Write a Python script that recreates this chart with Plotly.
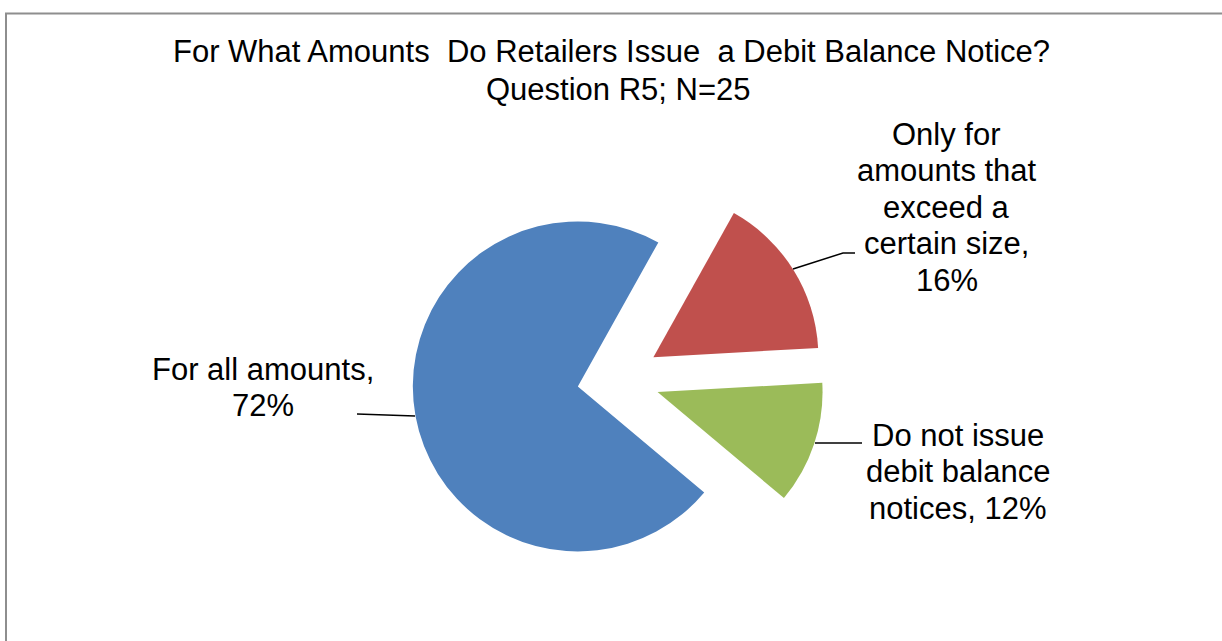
import textwrap
import plotly.graph_objects as go

# ---- data ----
categories = ["For all amounts", "Only for amounts that exceed a certain size", "Do not issue debit balance notices"]
values = [72, 16, 12]
colors = ["#4F81BD", "#C0504D", "#9BBB59"]
title_lines = ["For What Amounts\u00a0 Do Retailers Issue\u00a0 a Debit Balance Notice?", "Question R5; N=25"]

# ---- layout helpers (pixel -> paper) ----
W, H = 1222, 641
def px(x):
    return x / W
def py(y):
    return 1 - y / H

FS = 31          # label font size
LINE = 36.5      # label line spacing (px)

# pie geometry
cx, cy, r, pull = 618.4, 379.0, 165.0, 0.25
half = r * (1 + pull)

fig = go.Figure(go.Pie(
    labels=categories,
    values=values,
    sort=False,
    direction="clockwise",
    rotation=130,
    pull=[pull] * len(values),
    marker=dict(colors=colors, line=dict(width=0)),
    textinfo="none",
    hoverinfo="label+percent",
    domain=dict(x=[px(cx - half), px(cx + half)], y=[py(cy + half), py(cy - half)]),
))

annotations = []
def add_lines(lines, xc, first_baseline, spacing, size):
    for i, t in enumerate(lines):
        base = first_baseline + i * spacing
        annotations.append(dict(
            x=px(xc), y=py(base - 0.35 * size), xref="paper", yref="paper",
            text=t, showarrow=False, xanchor="center", yanchor="middle",
            font=dict(family="Liberation Sans, Arial, sans-serif", size=size, color="#000000"),
        ))

# title
add_lines([title_lines[0]], 611.5, 62, 38, 31)
add_lines([title_lines[1]], 618, 100, 38, 31)

# data labels
wrap_widths = [16, 13, 13]
label_pos = [(262.5, 380.0), (946.5, 145.0), (958.0, 446.0)]
for cat, val, ww, (lx, lb) in zip(categories, values, wrap_widths, label_pos):
    lines = textwrap.wrap(f"{cat}, {val}%", width=ww)
    add_lines(lines, lx, lb, LINE, FS)

shapes = [
    # chart border
    dict(type="rect", xref="paper", yref="paper", x0=px(6), y0=py(13.5), x1=px(1240), y1=py(700),
         line=dict(color="#8E8E8E", width=2), fillcolor="rgba(0,0,0,0)"),
    # leader lines
    dict(type="path", xref="paper", yref="paper",
         path=f"M {px(357)} {py(414)} L {px(415)} {py(416)}", line=dict(color="black", width=1.5)),
    dict(type="path", xref="paper", yref="paper",
         path=f"M {px(793)} {py(269)} L {px(843)} {py(253)} L {px(855)} {py(253)}", line=dict(color="black", width=1.5)),
    dict(type="path", xref="paper", yref="paper",
         path=f"M {px(815)} {py(443)} L {px(862)} {py(443)}", line=dict(color="black", width=1.5)),
]

fig.update_layout(
    width=W, height=H,
    margin=dict(l=0, r=0, t=0, b=0),
    paper_bgcolor="white", plot_bgcolor="white",
    showlegend=False,
    annotations=annotations,
    shapes=shapes,
)

fig.write_html("out.html", config={"displayModeBar": False},
               post_script="document.body.style.margin='0px';document.body.style.overflow='hidden';")
